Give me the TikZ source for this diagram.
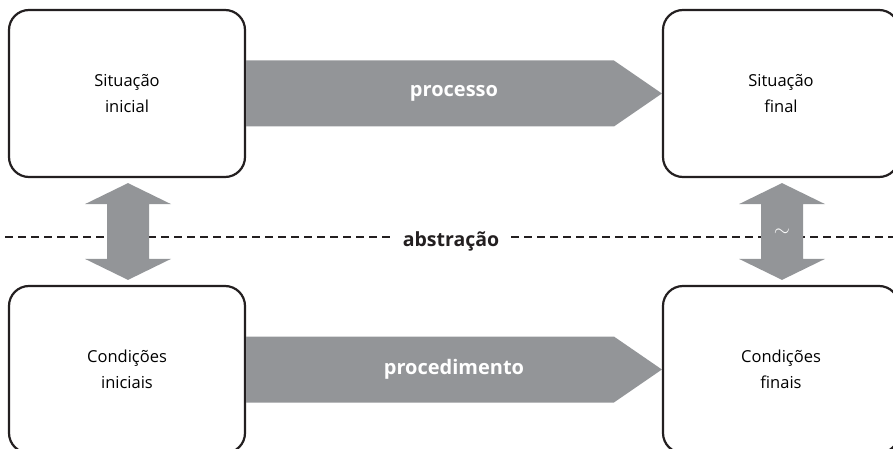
\documentclass[tikz,border=0pt]{standalone}
\usepackage{fontspec}
\setmainfont{Open Sans}
\usetikzlibrary{calc}
\definecolor{flowgray}{HTML}{939598}
\definecolor{inkdark}{HTML}{231F20}
\tikzset{
  statebox/.style={draw=inkdark, line width=2.2pt, rounded corners=20pt, fill=white,
    minimum width=236pt, minimum height=167pt, align=center, font=\fontsize{16.5}{26}\selectfont,
    inner sep=0pt},
  flowlabel/.style={text=white, font=\fontsize{20}{22}\selectfont\bfseries},
  flowfill/.style={fill=flowgray},
  cutline/.style={draw=inkdark, line width=2.4pt, dash pattern=on 8pt off 5pt},
}
\begin{document}
\begin{tikzpicture}[x=1pt,y=-1pt]
  \useasboundingbox (0,0) rectangle (893,449);
  \clip (0,0) rectangle (893,449);

  % the four states
  \node[statebox] (si) at (127,93.5) {Situação\\inicial};
  \node[statebox] (sf) at (781,93.5) {Situação\\final};
  \node[statebox] (ci) at (127,369.5) {Condições\\iniciais};
  \node[statebox] (cf) at (781,369.5) {Condições\\finais};

  % horizontal block arrows
  \fill[flowfill] ($(si.east)+(0,-33)$) -- ($(sf.west)+(-48,-33)$) -- (sf.west)
    -- ($(sf.west)+(-48,33)$) -- ($(si.east)+(0,33)$) -- cycle;
  \node[flowlabel] (proc) at ($(si.east)!0.5!(sf.west)$) {processo};
  \fill[flowfill] ($(ci.east)+(0,-33)$) -- ($(cf.west)+(-48,-33)$) -- (cf.west)
    -- ($(cf.west)+(-48,33)$) -- ($(ci.east)+(0,33)$) -- cycle;
  \node[flowlabel] (procd) at ($(ci.east)!0.5!(cf.west)$) {procedimento};

  % abstraction line
  \coordinate (dl) at (5,237);
  \coordinate (dr) at (893,237);
  \node[font=\fontsize{19.5}{22}\selectfont\bfseries, text=inkdark, anchor=base, inner xsep=12pt] (abs) at (451,246) {abstração};
  \draw[cutline] (dl) -- (dl -| abs.west);
  \draw[cutline] (abs.east |- dr) -- (dr);

  % vertical double arrows
  \coordinate (lt) at ($(si.south)+(1,5)$);
  \coordinate (lb) at ($(ci.north)+(1,-5)$);
  \fill[flowfill] (lt) -- ++(43,21) -- ++(-22,0) -- ($(lb)+(21,-21)$) -- ++(22,0) -- (lb)
    -- ++(-43,-21) -- ++(22,0) -- ($(lt)+(-21,21)$) -- ++(-22,0) -- cycle;
  \coordinate (rt) at ($(sf.south)+(1,5)$);
  \coordinate (rb) at ($(cf.north)+(1,-5)$);
  \fill[flowfill] (rt) -- ++(43,21) -- ++(-22,0) -- ($(rb)+(21,-21)$) -- ++(22,0) -- (rb)
    -- ++(-43,-21) -- ++(22,0) -- ($(rt)+(-21,21)$) -- ++(-22,0) -- cycle;
  \node[text=white!94!flowgray, font=\fontsize{20}{22}\selectfont] (approx) at ($(rt)!0.5!(rb)+(0,1)$) {$\sim$};
\end{tikzpicture}
\end{document}
